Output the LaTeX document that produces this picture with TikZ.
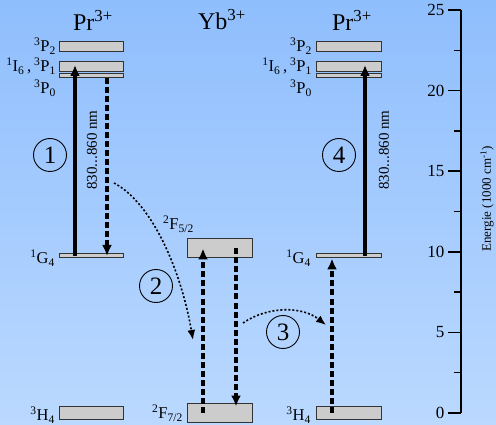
\documentclass[tikz,border=0pt]{standalone}
\usepackage{fontspec}
\setmainfont{Liberation Serif}
\usetikzlibrary{arrows.meta, calc}
\definecolor{bgtop}{RGB}{143,190,253}
\definecolor{bgbot}{RGB}{187,217,255}
\definecolor{lvlfill}{RGB}{204,204,204}
\tikzset{
  level/.style={draw=black!80, fill=lvlfill, line width=1pt, inner sep=0pt, minimum width=64pt},
  lvllabel/.style={anchor=east, inner sep=0pt, font=\fontsize{16.5}{16.5}\selectfont},
  ionlabel/.style={inner sep=0pt, font=\fontsize{24}{24}\selectfont},
  steplabel/.style={circle, draw, line width=0.9pt, minimum size=33pt, inner sep=0pt, font=\fontsize{25}{25}\selectfont},
  pumparrow/.style={-{Latex[length=11pt,width=10pt]}, line width=4pt},
  transarrow/.style={-{Latex[length=11pt,width=10pt]}, line width=4pt, dash pattern=on 6pt off 3pt},
  etarrow/.style={-{Latex[length=10pt,width=8pt]}, line width=1.6pt, dash pattern=on 2pt off 2pt},
  wavelabel/.style={rotate=90, inner sep=0pt, font=\fontsize{15}{15}\selectfont},
  ticklabel/.style={anchor=east, inner sep=0pt, font=\fontsize{17}{17}\selectfont},
  axisline/.style={line width=1.5pt},
}
\newcommand{\lvl}[3]{\textsuperscript{#1}#2\textsubscript{#3}}

\begin{document}
\begin{tikzpicture}[x=1pt, y=-1pt]
  \useasboundingbox (0,0) rectangle (496,425);
  \shade[top color=bgtop, bottom color=bgbot] (0,0) rectangle (496,425);

  % Ions
  \node[ionlabel] (prL) at (93,20) {Pr\textsuperscript{3+}};
  \node[ionlabel] (yb) at (222,20) {Yb\textsuperscript{3+}};
  \node[ionlabel] (prR) at (352,20) {Pr\textsuperscript{3+}};

  % Pr levels (left)
  \node[level, minimum height=10pt] (P2L) at (91,47) {};
  \node[level, minimum height=10pt] (P1L) at (91,67) {};
  \node[level, minimum height=4pt] (P0L) at (91,76) {};
  \node[level, minimum height=4pt] (G4L) at (91,256) {};
  \node[level, minimum height=13pt] (H4L) at (91,412.5) {};
  \node[lvllabel] (lP2L) at (56,46) {\lvl{3}{P}{2}};
  \node[lvllabel] (lP1L) at (56,66) {\lvl{1}{I}{6}\,,\,\lvl{3}{P}{1}};
  \node[lvllabel] (lP0L) at (56,88) {\lvl{3}{P}{0}};
  \node[lvllabel] (lG4L) at (55,258) {\lvl{1}{G}{4}};
  \node[lvllabel] (lH4L) at (55,415) {\lvl{3}{H}{4}};

  % Yb levels
  \node[level, minimum width=65pt, minimum height=19pt] (F52) at (219.5,248.5) {};
  \node[level, minimum width=65pt, minimum height=19pt] (F72) at (219.5,412.5) {};
  \node[lvllabel] (lF52) at (194,224) {\lvl{2}{F}{5/2}};
  \node[lvllabel] (lF72) at (183,413) {\lvl{2}{F}{7/2}};

  % Pr levels (right)
  \node[level, minimum width=65pt, minimum height=10pt] (P2R) at (348.5,47) {};
  \node[level, minimum width=65pt, minimum height=10pt] (P1R) at (348.5,67) {};
  \node[level, minimum width=65pt, minimum height=4pt] (P0R) at (348.5,76) {};
  \node[level, minimum width=65pt, minimum height=4pt] (G4R) at (348.5,256) {};
  \node[level, minimum width=65pt, minimum height=13pt] (H4R) at (348.5,412.5) {};
  \node[lvllabel] (lP2R) at (312,46) {\lvl{3}{P}{2}};
  \node[lvllabel] (lP1R) at (312,66) {\lvl{1}{I}{6}\,,\,\lvl{3}{P}{1}};
  \node[lvllabel] (lP0R) at (312,88) {\lvl{3}{P}{0}};
  \node[lvllabel] (lG4R) at (311,258) {\lvl{1}{G}{4}};
  \node[lvllabel] (lH4R) at (311,415) {\lvl{3}{H}{4}};

  % Transitions
  \draw[pumparrow] ([xshift=-16pt]G4L.center) -- ([xshift=-16pt,yshift=2pt]P1L.center);
  \draw[transarrow] ([xshift=16pt]P0L.south) -- ([xshift=16pt]G4L.center);
  \node[wavelabel] (wlL) at (92,150) {830...860 nm};
  \draw[transarrow] ([xshift=-16.5pt]F72.center) -- ([xshift=-16.5pt]F52.center);
  \draw[transarrow] ([xshift=16.5pt]F52.center) -- ([xshift=16.5pt,yshift=6pt]F72.center);
  \draw[transarrow] ([xshift=-16.5pt]H4R.center) -- ([xshift=-16.5pt]G4R.south);
  \draw[pumparrow] ([xshift=16.5pt]G4R.center) -- ([xshift=16.5pt,yshift=2pt]P1R.center);
  \node[wavelabel] (wlR) at (384,150) {830...860 nm};

  % Energy transfer
  \coordinate (e2a) at (114,183);
  \coordinate (e2b) at (193,340);
  \coordinate (e3a) at (243,323);
  \coordinate (e3b) at (326,325);
  \draw[etarrow] (e2a) .. controls (152,203) and (181,270) .. (e2b);
  \draw[etarrow] (e3a) .. controls (268,306) and (302,306) .. (e3b);

  % Steps
  \node[steplabel] (s1) at (50,155) {1};
  \node[steplabel] (s2) at (156,286) {2};
  \node[steplabel] (s3) at (283,332) {3};
  \node[steplabel] (s4) at (339,155) {4};

  % Energy axis
  \draw[axisline] (461,10) -- (461,413);
  \foreach \e in {0,5,...,25}
    \draw[axisline] (461,{413-16.12*\e}) -- ++(-13,0) node[ticklabel, xshift=-3pt] (t\e) {\e};
  \foreach \e in {2.5,7.5,...,22.5}
    \draw[axisline] (461,{413-16.12*\e}) -- ++(-7,0);
  \node[rotate=90, inner sep=0pt, font=\fontsize{13}{13}\selectfont] (elabel) at (487,199) {Energie (1000 cm\textsuperscript{-1})};
\end{tikzpicture}
\end{document}
